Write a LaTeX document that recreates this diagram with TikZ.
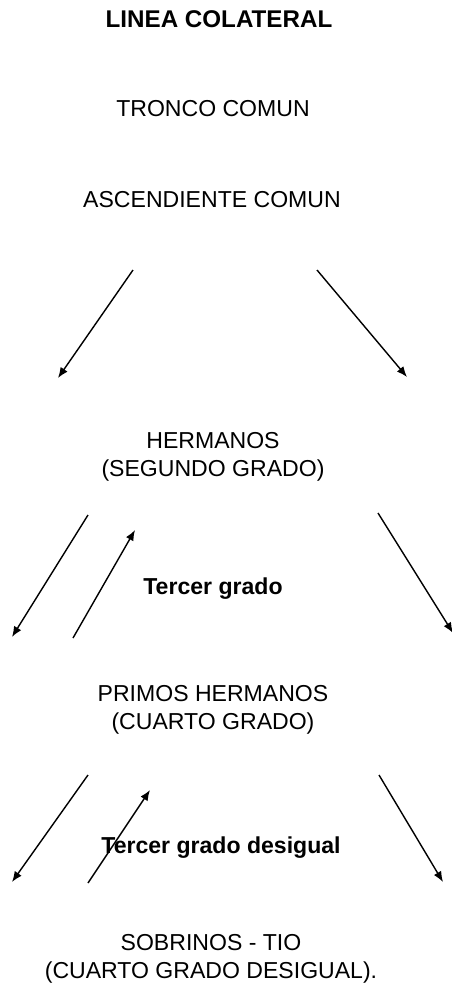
\documentclass[tikz,border=0pt]{standalone}
\usepackage{fontspec}
\setmainfont{Liberation Sans}
\usetikzlibrary{arrows.meta}
\usetikzlibrary{positioning}

\tikzset{
  lbl/.style={font=\fontsize{16.4}{19.5}\selectfont, align=center, inner sep=0pt},
  lblbold/.style={lbl, font=\fontsize{16.4}{19.5}\selectfont\bfseries},
  arr/.style={line width=1pt, -{Latex[length=7.5pt,width=6pt]}}
}

\begin{document}
\begin{tikzpicture}[x=0.025cm,y=-0.025cm]
\useasboundingbox (0,0) rectangle (452,989);

% textos
\node[lblbold,font=\fontsize{17.2}{20}\selectfont\bfseries] (titulo) at (219,19) {LINEA COLATERAL};
\node[lbl] (tronco) at (213,109) {TRONCO COMUN};
\node[lbl] (ascend) at (212,200) {ASCENDIENTE COMUN};
\node[lbl] (herm) at (213,457) {HERMANOS\\(SEGUNDO GRADO)};
\node[lblbold] (tercer) at (213,589) {Tercer grado};
\node[lbl] (primos) at (213,710) {PRIMOS HERMANOS\\(CUARTO GRADO)};
\node[lblbold] (tercerdes) at (221,848) {Tercer grado desigual};
\node[lbl] (sobrinos) at (211,959) {SOBRINOS - TIO\\(CUARTO GRADO DESIGUAL).};

% puntos de las flechas
\coordinate (a1s) at (133,270); \coordinate (a1e) at (58,378);
\coordinate (a2s) at (317,270); \coordinate (a2e) at (407,377);
\coordinate (b1s) at (88,515);  \coordinate (b1e) at (12,637);
\coordinate (b2s) at (73,638);  \coordinate (b2e) at (135,530);
\coordinate (b3s) at (378,513); \coordinate (b3e) at (453,633);
\coordinate (c1s) at (88,775);  \coordinate (c1e) at (12,882);
\coordinate (c2s) at (88,883);  \coordinate (c2e) at (150,790);
\coordinate (c3s) at (379,775); \coordinate (c3e) at (443,882);

% flechas
\draw[arr] (a1s) -- (a1e);
\draw[arr] (a2s) -- (a2e);
\draw[arr] (b1s) -- (b1e);
\draw[arr] (b2s) -- (b2e);
\draw[arr] (b3s) -- (b3e);
\draw[arr] (c1s) -- (c1e);
\draw[arr] (c2s) -- (c2e);
\draw[arr] (c3s) -- (c3e);

\end{tikzpicture}
\end{document}
